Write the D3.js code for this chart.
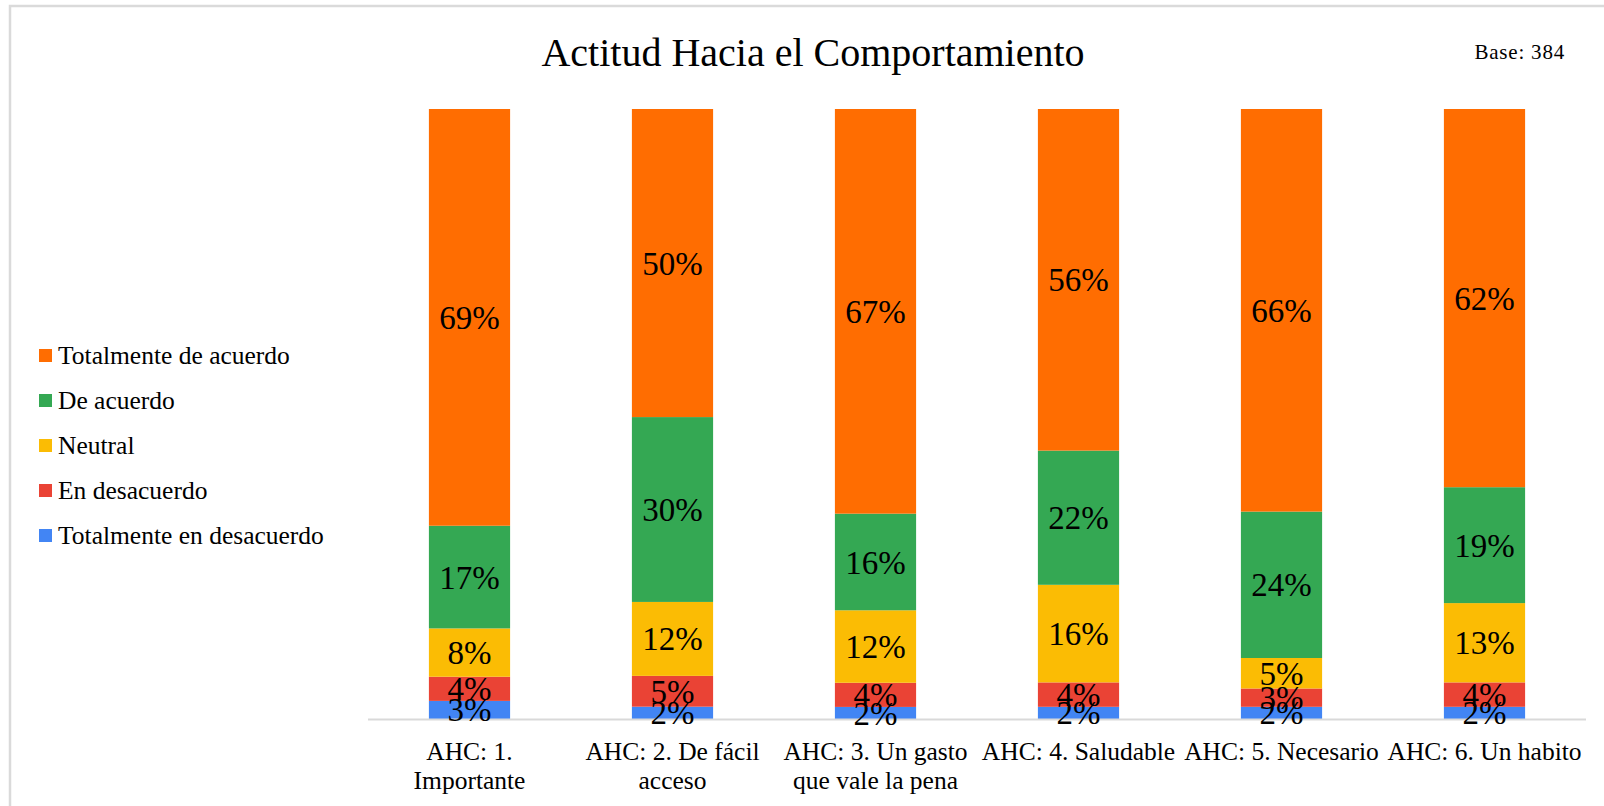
<!DOCTYPE html>
<html>
<head>
<meta charset="utf-8">
<script src="https://cdn.jsdelivr.net/npm/d3@7/dist/d3.min.js"></script>
<style>
  html, body { margin: 0; padding: 0; background: #ffffff; }
  svg { display: block; }
  text { font-family: "Liberation Serif", "Times New Roman", serif; fill: #000; }
</style>
</head>
<body>
<svg id="chart" width="1604" height="806"></svg>
<script>
// Item labels (line breaks mark how each label wraps under its bar)
const categories = [
  "AHC: 1.\nImportante",
  "AHC: 2. De fácil\nacceso",
  "AHC: 3. Un gasto\nque vale la pena",
  "AHC: 4. Saludable",
  "AHC: 5. Necesario",
  "AHC: 6. Un habito"
];

// Answer scale, bottom of the stack first
const seriesNames = [
  "Totalmente en desacuerdo",
  "En desacuerdo",
  "Neutral",
  "De acuerdo",
  "Totalmente de acuerdo"
];

// Percent of respondents per item, one array per answer
const totalmenteEnDesacuerdo = [3, 2, 2, 2, 2, 2];
const enDesacuerdo           = [4, 5, 4, 4, 3, 4];
const neutral                = [8, 12, 12, 16, 5, 13];
const deAcuerdo              = [17, 30, 16, 22, 24, 19];
const totalmenteDeAcuerdo    = [69, 50, 67, 56, 66, 62];

const seriesColors = ["#4285F4", "#EA4335", "#FBBC04", "#34A853", "#FF6D01"];

const chartTitle = "Actitud Hacia el Comportamiento";
const baseNote = "Base: 384";

const seriesValues = [totalmenteEnDesacuerdo, enDesacuerdo, neutral, deAcuerdo, totalmenteDeAcuerdo];

// Rows for d3.stack
const rows = categories.map((c, i) => {
  const r = { category: c };
  seriesNames.forEach((s, k) => { r[s] = seriesValues[k][i]; });
  return r;
});

const svg = d3.select("#chart");
const W = 1604, H = 806;

// Outer frame
svg.append("rect")
  .attr("x", 10).attr("y", 6)
  .attr("width", W + 20).attr("height", H + 20)
  .attr("fill", "#fff")
  .attr("stroke", "#dadada").attr("stroke-width", 2.5);

const plot = { left: 368, right: 1586, top: 109, bottom: 719 };

const x = d3.scaleBand()
  .domain(categories)
  .range([plot.left, plot.right])
  .paddingInner(0.6)
  .paddingOuter(0.3);

const y = d3.scaleLinear()
  .domain([0, 1])
  .range([plot.bottom, plot.top]);

const color = d3.scaleOrdinal().domain(seriesNames).range(seriesColors);

const stack = d3.stack()
  .keys(seriesNames)
  .offset(d3.stackOffsetExpand);
const layers = stack(rows);

// Stacked bars
const layerG = svg.append("g").selectAll("g")
  .data(layers)
  .join("g")
  .attr("fill", d => color(d.key));

layerG.selectAll("rect")
  .data(d => d.map(p => ({ p, key: d.key })))
  .join("rect")
  .attr("x", d => x(d.p.data.category))
  .attr("width", x.bandwidth())
  .attr("y", d => y(d.p[1]))
  .attr("height", d => y(d.p[0]) - y(d.p[1]));

// Baseline axis
svg.append("line")
  .attr("x1", plot.left).attr("x2", plot.right)
  .attr("y1", plot.bottom + 0.5).attr("y2", plot.bottom + 0.5)
  .attr("stroke", "#d9d9d9").attr("stroke-width", 2);

// Value labels centred in each segment
const labelG = svg.append("g");
layers.forEach(layer => {
  layer.forEach(p => {
    const v = p.data[layer.key];
    labelG.append("text")
      .attr("x", x(p.data.category) + x.bandwidth() / 2)
      .attr("y", y((p[0] + p[1]) / 2))
      .attr("dy", "0.35em")
      .attr("text-anchor", "middle")
      .style("font-size", "33px")
      .text(v + "%");
  });
});

// Category labels under the axis
const xAxis = d3.axisBottom(x).tickSize(0).tickPadding(0);
const axisG = svg.append("g")
  .attr("transform", `translate(0,${plot.bottom})`)
  .call(xAxis);
axisG.select(".domain").remove();
axisG.selectAll(".tick text").each(function(d) {
  const t = d3.select(this);
  t.text(null)
    .attr("y", 0)
    .attr("dy", null)
    .attr("fill", "#000")
    .style("font-family", '"Liberation Serif", "Times New Roman", serif')
    .style("font-size", "25.5px");
  d.split("\n").forEach((line, i) => {
    t.append("tspan")
      .attr("x", 0)
      .attr("y", 41 + i * 28.5)
      .text(line);
  });
});

// Title and base note
svg.append("text")
  .attr("x", 813).attr("y", 66)
  .attr("text-anchor", "middle")
  .style("font-size", "40px")
  .text(chartTitle);

svg.append("text")
  .attr("x", 1565).attr("y", 59)
  .attr("text-anchor", "end")
  .style("font-size", "21px")
  .style("letter-spacing", "0.8px")
  .text(baseNote);

// Legend, top entry is the top of the stack
const legendItems = seriesNames.slice().reverse();
const legend = svg.append("g").selectAll("g")
  .data(legendItems)
  .join("g")
  .attr("transform", (d, i) => `translate(39,${355 + i * 45})`);

legend.append("rect")
  .attr("x", 0).attr("y", -6)
  .attr("width", 13).attr("height", 13)
  .attr("fill", d => color(d));

legend.append("text")
  .attr("x", 19).attr("y", 0)
  .attr("dy", "0.35em")
  .style("font-size", "25.5px")
  .text(d => d);
</script>
</body>
</html>
